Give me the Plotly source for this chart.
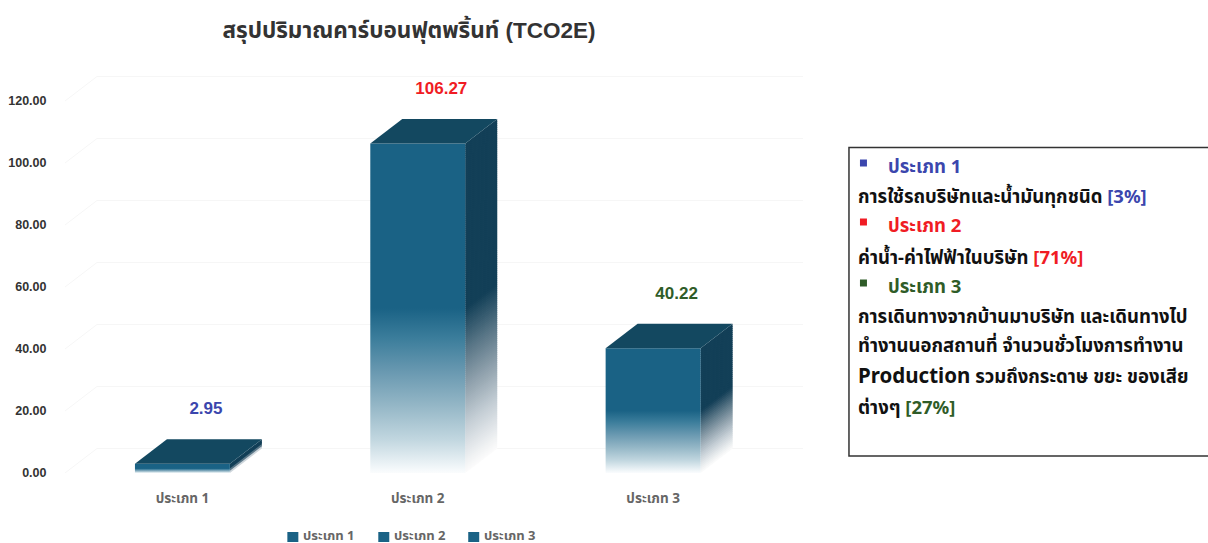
import plotly.graph_objects as go

categories = ["ประเภท 1", "ประเภท 2", "ประเภท 3"]
values = [2.95, 106.27, 40.22]
value_labels = ["2.95", "106.27", "40.22"]
label_colors = ["#3b46ad", "#f01c24", "#2f5c28"]
y_ticks = [0, 20, 40, 60, 80, 100, 120]
y_tick_labels = ["0.00", "20.00", "40.00", "60.00", "80.00", "100.00", "120.00"]
title_text = "สรุปปริมาณคาร์บอนฟุตพริ้นท์ (TCO2E)"

BLUE, RED, GREEN = "#3b46ad", "#f01c24", "#2f5c28"
FONT = "Noto Sans, Noto Sans Thai, Liberation Sans, sans-serif"

W, H = 1208, 543
L, R, T, B = 64.5, 803, 75, 473
PX_PER_CAT = 235.5
X0_PX = 182
PX_PER_UNIT = 3.1

x_range = [(L - X0_PX) / PX_PER_CAT, (R - X0_PX) / PX_PER_CAT]
y_range = [0, (B - T) / PX_PER_UNIT]
HALF = 47.5 / PX_PER_CAT
DX = 32 / PX_PER_CAT
DY = 24.5 / PX_PER_UNIT

FRONT_STOPS = [(0.0, (250, 252, 253)), (0.01, (245, 249, 251)), (0.10, (194, 215, 224)), (0.21, (146, 181, 197)),
               (0.31, (104, 152, 176)), (0.41, (59, 125, 155)), (0.50, (26, 98, 133)), (1.0, (26, 98, 133))]
SIDE_STOPS = [(0.0, (252, 252, 252)), (0.05, (235, 238, 240)), (0.15, (195, 205, 212)), (0.27, (140, 158, 170)),
              (0.38, (85, 115, 132)), (0.50, (18, 63, 87)), (1.0, (18, 63, 87))]
TOP_COLOR = "#134860"


def mix(stops, f):
    for (a, ca), (b, cb) in zip(stops, stops[1:]):
        if a <= f <= b:
            t = (f - a) / (b - a)
            c = [round(p + (q - p) * t) for p, q in zip(ca, cb)]
            return f"rgb({c[0]},{c[1]},{c[2]})"
    return f"rgb{stops[-1][1]}"


def px(xp):
    return (xp - L) / (R - L)


def py(yp):
    return (B - yp) / (B - T)


fig = go.Figure()


def poly(xs, ys, color):
    fig.add_trace(go.Scatter(x=xs, y=ys, mode="lines", fill="toself", fillcolor=color,
                             line=dict(width=0), showlegend=False, hoverinfo="skip"))


# Back wall and side wall gridlines
for t in y_ticks:
    fig.add_trace(go.Scatter(x=[x_range[0], x_range[0] + DX, x_range[1]], y=[t, t + DY, t + DY], mode="lines",
                             line=dict(color="#f6f6f6", width=1), showlegend=False, hoverinfo="skip"))

# 3D bars
for i, v in enumerate(values):
    xl, xr = i - HALF, i + HALF
    # side face: a stack of thin parallelograms, so the fade runs along the depth
    height_px = v * PX_PER_UNIT
    n = max(3, int(height_px / 2))
    overlap = 1.0 / PX_PER_UNIT
    for k in range(n, 0, -1):
        hi = v * k / n
        lo = max(0, v * (k - 1) / n - overlap)
        poly([xr, xr + DX, xr + DX, xr, xr], [lo, lo + DY, hi + DY, hi, lo], mix(SIDE_STOPS, (k - 0.5) / n))
    # front face
    fig.add_trace(go.Scatter(
        x=[xl, xr, xr, xl, xl], y=[0, 0, v, v, 0], mode="lines", fill="toself", line=dict(width=0),
        fillgradient=dict(type="vertical", start=0, stop=v,
                          colorscale=[[f, f"rgb{c}"] for f, c in FRONT_STOPS]),
        showlegend=False, hoverinfo="skip"))
    # top face
    poly([xl, xr, xr + DX, xl + DX, xl], [v, v, v + DY, v + DY, v], TOP_COLOR)

# Value labels
fig.add_trace(go.Scatter(
    x=[i + 0.1 for i in range(len(values))], y=[v + DY + 9.4 for v in values],
    mode="text", text=[f"<b>{s}</b>" for s in value_labels], textposition="middle center",
    textfont=dict(color=label_colors, size=17, family="Liberation Sans, Arial, sans-serif"),
    showlegend=False, hoverinfo="skip", cliponaxis=False))

# Legend under the chart
for name, sq, tx in zip(categories, [287, 378, 468], [301, 392, 482]):
    fig.add_shape(type="rect", xref="paper", yref="paper", x0=px(sq), x1=px(sq + 11), y0=py(542), y1=py(532),
                  line=dict(width=0), fillcolor="#1a6285")
    fig.add_annotation(xref="paper", yref="paper", x=px(tx), y=py(535), text=f"<b>{name}</b>", showarrow=False,
                       xanchor="left", yanchor="middle", font=dict(size=13, color="#666666", family=FONT))

# Text panel
fig.add_shape(type="rect", xref="paper", yref="paper", x0=px(849), x1=px(1212), y0=py(456), y1=py(147.5),
              line=dict(color="#333333", width=1.5), fillcolor="white")


def c(color, s):
    return f'<span style="color:{color}">{s}</span>'


panel_lines = [
    (165, 886, c(BLUE, "ประเภท 1")),
    (195, 856, "การใช้รถบริษัทและน้ำมันทุกชนิด " + c(BLUE, "[3%]")),
    (224, 886, c(RED, "ประเภท 2")),
    (256, 856, "ค่าน้ำ-ค่าไฟฟ้าในบริษัท " + c(RED, "[71%]")),
    (285, 886, c(GREEN, "ประเภท 3")),
    (315, 856, "การเดินทางจากบ้านมาบริษัท และเดินทางไป"),
    (344, 856, "ทำงานนอกสถานที่ จำนวนชั่วโมงการทำงาน"),
    (375, 856, '<span style="font-size:20.5px">Production</span> รวมถึงกระดาษ ขยะ ของเสีย'),
    (406, 856, "ต่างๆ " + c(GREEN, "[27%]")),
]
for yp, xp, s in panel_lines:
    fig.add_annotation(xref="paper", yref="paper", x=px(xp), y=py(yp), text=f"<b>{s}</b>", showarrow=False,
                       xanchor="left", yanchor="middle", align="left",
                       font=dict(size=18.5, color="#111111", family=FONT))
for yp, color in [(163, BLUE), (222, RED), (283, GREEN)]:
    fig.add_shape(type="rect", xref="paper", yref="paper", x0=px(860), x1=px(867), y0=py(yp + 3.5), y1=py(yp - 3.5),
                  line=dict(width=0), fillcolor=color)

fig.update_layout(
    width=W, height=H, paper_bgcolor="white", plot_bgcolor="white",
    margin=dict(l=L, r=W - R, t=T, b=H - B, pad=0),
    title=dict(text=f"<b>{title_text}</b>", x=409 / W, xref="container", xanchor="center",
               y=1 - 30 / H, yref="container", yanchor="middle",
               font=dict(size=22.5, color="#333333", family="Liberation Sans, Arial, " + FONT)),
    xaxis=dict(range=x_range, tickvals=[0, 1, 2], ticktext=[f"<b>{s}</b>" for s in categories],
               showgrid=False, zeroline=False, showline=False, automargin=False,
               ticks="outside", ticklen=13, tickcolor="rgba(0,0,0,0)",
               tickfont=dict(size=13.5, color="#666666", family=FONT)),
    yaxis=dict(range=y_range, tickvals=y_ticks, ticktext=[f"<b>{s}</b>" for s in y_tick_labels],
               showgrid=False, zeroline=False, showline=False, automargin=False,
               ticks="outside", ticklen=15, tickcolor="rgba(0,0,0,0)",
               tickfont=dict(size=12.5, color="#333333", family="Liberation Sans, Arial, sans-serif")),
    showlegend=False,
)

fig.write_html("out.html", config={"displayModeBar": False}, post_script="document.body.style.margin='0';")
